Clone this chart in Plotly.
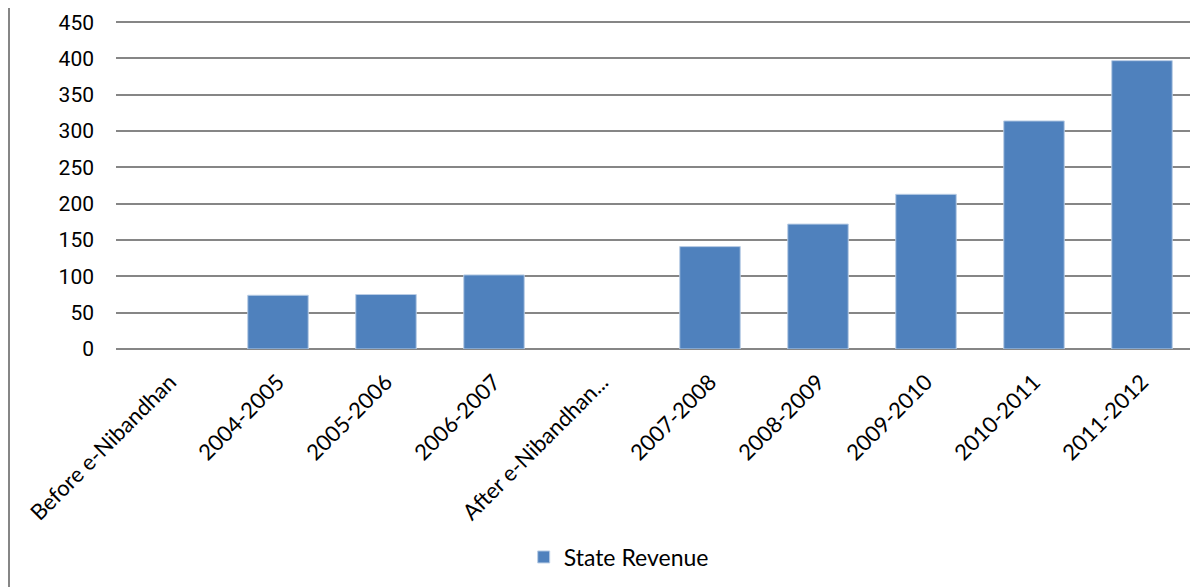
import plotly.graph_objects as go

categories = ["Before e-Nibandhan", "2004-2005", "2005-2006", "2006-2007",
              "After e-Nibandhan...", "2007-2008", "2008-2009", "2009-2010",
              "2010-2011", "2011-2012"]
state_revenue = [None, 74, 75, 102, None, 141, 172, 213, 314, 397]
y_ticks = [0, 50, 100, 150, 200, 250, 300, 350, 400, 450]

fig = go.Figure()
fig.add_trace(go.Bar(
    x=categories, y=state_revenue, name="State Revenue",
    marker=dict(color="#4F81BD", line=dict(color="#B9CDE5", width=1)),
    showlegend=True,
))

# page has an 8px body margin; figure sized to fit the 1198x587 window
plot_h = 329
plot_w = 1080
fig.update_layout(
    width=1190, height=579,
    margin=dict(l=108, r=2, t=12, b=238),
    paper_bgcolor="white", plot_bgcolor="white",
    bargap=0.44,
    font=dict(family="Lato", color="#000000"),
    xaxis=dict(
        type="category", tickangle=-45, automargin=False,
        tickfont=dict(family="Lato", size=22, color="#000000"),
        showgrid=False, showline=False, zeroline=False,
        ticks="", ticklabelstandoff=15,
    ),
    yaxis=dict(
        range=[0, 453], tickvals=y_ticks, automargin=False,
        tickfont=dict(family="Roboto", size=21, color="#000000"),
        showgrid=True, gridcolor="#868686", gridwidth=2,
        zeroline=True, zerolinecolor="#868686", zerolinewidth=2,
        showline=False, ticks="", ticklabelstandoff=21,
    ),
    legend=dict(
        orientation="h", x=0.3775, xanchor="left", y=-(557 - 349) / plot_h,
        yanchor="middle",
        font=dict(family="Lato", size=23, color="#000000"),
        itemwidth=30,
    ),
    shapes=[dict(type="line", xref="paper", yref="paper",
                 x0=-107 / plot_w, x1=-107 / plot_w, y0=-238 / plot_h,
                 y1=1 + 12 / plot_h,
                 line=dict(color="#868686", width=2))],
)

fig.write_html("out.html")
